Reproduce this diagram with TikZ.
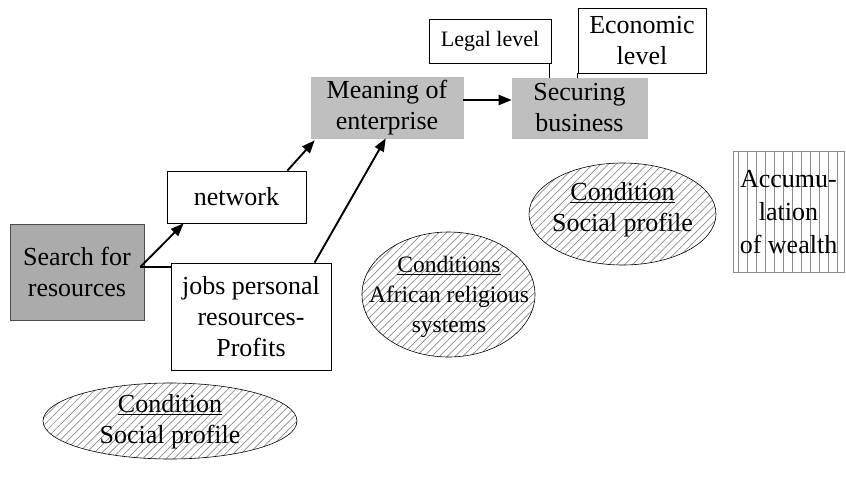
\documentclass[tikz,border=0pt]{standalone}
\usepackage{fontspec}
\setmainfont{Liberation Serif}
\usetikzlibrary{shapes.geometric,arrows.meta,patterns.meta}
\begin{document}
\begin{tikzpicture}[x=1pt,y=-1pt,
  txt/.style={font=\fontsize{26}{31}\selectfont, align=center, inner sep=2pt},
  darkbox/.style={txt, draw=black!70, fill=black!33, line width=0.6pt},
  lightbox/.style={txt, draw=black!25, fill=black!25, line width=0.6pt},
  whitebox/.style={txt, draw=black, fill=white, line width=0.8pt},
  hatchell/.style={ellipse, draw=black, line width=0.6pt, inner sep=0pt,
    pattern={Lines[angle=45,distance=5.5pt,line width=0.7pt]}, pattern color=black!45},
  vlbox/.style={txt, draw=black!45, line width=0.8pt,
    pattern={Lines[angle=90,distance=9pt,line width=0.8pt]}, pattern color=black!45},
  arr/.style={-{Triangle[length=13pt,width=10pt]}, line width=1.9pt},
  ln/.style={line width=1.9pt},
  thin/.style={line width=0.8pt}]
\useasboundingbox (0,0) rectangle (846,477);

\node[darkbox, minimum width=134pt, minimum height=96pt] (search) at (77,272) {Search for\\resources};
\node[whitebox, minimum width=139pt, minimum height=52pt] (network) at (236.5,197) {network};
\node[whitebox, minimum width=160pt, minimum height=107pt] (jobs) at (251,316.5) {jobs personal\\resources-\\Profits};
\node[lightbox, minimum width=152pt, minimum height=61pt] (meaning) at (387,107.5) {Meaning of\\enterprise};
\node[lightbox, minimum width=135pt, minimum height=60pt] (securing) at (579.5,108) {Securing\\business};
\node[whitebox, font=\fontsize{22}{27}\selectfont, minimum width=122pt, minimum height=44pt] (legal) at (490,41) {Legal level};
\node[whitebox, minimum width=128pt, minimum height=65pt] (economic) at (642,40.5) {Economic\\level};
\node[vlbox, minimum width=111pt, minimum height=121pt] (accum) at (788.5,212) {Accumu-\\[2pt]lation\\[2pt]of wealth};

\node[hatchell, minimum width=254pt, minimum height=76pt] (e1) at (170,421) {};
\node[txt] (e1t) at (170,422) {\underline{Condition}\\Social profile};
\node[hatchell, minimum width=173pt, minimum height=125pt] (e2) at (448.5,294.5) {};
\node[txt, font=\fontsize{23.5}{30}\selectfont] (e2t) at (449,297) {\underline{Conditions}\\African religious\\systems};
\node[hatchell, minimum width=187pt, minimum height=102pt] (e3) at (622.5,214) {};
\node[txt] (e3t) at (622.5,210) {\underline{Condition}\\Social profile};

\coordinate (s1) at ([yshift=5pt]search.east);
\draw[arr] ([xshift=-4pt]s1) -- ([xshift=17pt]network.south west);
\draw[ln] ([xshift=-4pt]s1) -- (s1 -| jobs.west);
\draw[arr] ([xshift=-19pt]network.north east) -- ([xshift=4pt,yshift=-2pt]meaning.south west);
\draw[arr] ([xshift=144pt]jobs.north west) -- ([xshift=75pt]meaning.south west);
\draw[arr] ([yshift=7.5pt]meaning.east) -- ([yshift=7.5pt]meaning.east -| securing.west);
\draw[thin] ([xshift=-2pt]legal.south east) -- ([xshift=-2pt]legal.south east |- securing.north);
\draw[thin] (economic.south west) -- (economic.south west |- securing.north);
\end{tikzpicture}
\end{document}
